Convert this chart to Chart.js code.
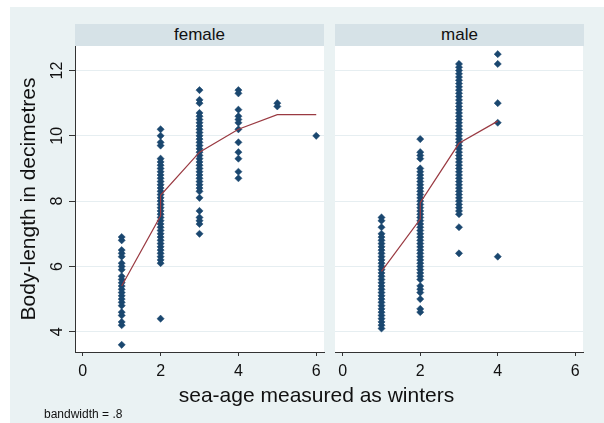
<!DOCTYPE html>
<html>
<head>
<meta charset="utf-8">
<script src="https://cdn.jsdelivr.net/npm/chart.js@4.4.0/dist/chart.umd.min.js"></script>
<style>
  body { margin: 0; width: 604px; height: 423px; overflow: hidden; position: relative; background: #fff;
         font-family: "Liberation Sans", Arial, sans-serif; color: #111; }
  #bg { position: absolute; left: 10px; top: 7px; width: 594px; height: 416px; background: #eaf2f3; }
  .strip { position: absolute; top: 24px; height: 22px; width: 249px; background: #d6e2e7;
           text-align: center; font-size: 17px; line-height: 22px; }
  canvas { position: absolute; top: 0; }
  #xtitle { position: absolute; top: 383px; left: 0; width: 633px; text-align: center; font-size: 21px; }
  #note { position: absolute; left: 44px; top: 407px; font-size: 12px; }
</style>
</head>
<body>
<div id="bg"></div>
<div class="strip" style="left:75px">female</div>
<div class="strip" style="left:335px">male</div>
<canvas id="female" width="330" height="423" style="left:0"></canvas>
<canvas id="male" width="274" height="423" style="left:330px"></canvas>
<div id="xtitle">sea-age measured as winters</div>
<div id="note">bandwidth = .8</div>

<script>
// =====================
// Data (body length in dm, per sea-age)
// =====================
const seaAges = [1, 2, 3, 4, 5, 6];
const xTicks = [0, 2, 4, 6];
const yTicks = [4, 6, 8, 10, 12];

const femaleAge1 = [6.9, 6.8, 6.5, 6.4, 6.3, 6.1, 6.0, 5.9, 5.7, 5.6, 5.5, 5.4, 5.3, 5.2, 5.1, 5.0, 4.9, 4.8, 4.6, 4.5, 4.3, 4.2, 3.6];
const femaleAge2 = [10.2, 10.0, 9.8, 9.7, 9.3, 9.2, 9.1, 9.0, 8.9, 8.8, 8.7, 8.6, 8.5, 8.4, 8.3, 8.2, 8.1, 8.0, 7.9, 7.8,
                    7.7, 7.6, 7.5, 7.4, 7.3, 7.2, 7.1, 7.0, 6.9, 6.8, 6.7, 6.6, 6.5, 6.4, 6.3, 6.2, 6.1, 4.4];
const femaleAge3 = [11.4, 11.1, 11.0, 10.7, 10.6, 10.5, 10.4, 10.3, 10.2, 10.1, 10.0, 9.9, 9.8, 9.7, 9.6, 9.5, 9.4, 9.3,
                    9.2, 9.1, 9.0, 8.9, 8.8, 8.7, 8.6, 8.5, 8.4, 8.3, 8.1, 7.7, 7.5, 7.4, 7.3, 7.0];
const femaleAge4 = [11.4, 11.3, 10.8, 10.6, 10.5, 10.4, 10.2, 9.8, 9.5, 9.3, 8.9, 8.7];
const femaleAge5 = [11.0, 10.9];
const femaleAge6 = [10.0];

const maleAge1 = [7.5, 7.4, 7.2, 7.0, 6.9, 6.8, 6.7, 6.6, 6.5, 6.4, 6.3, 6.2, 6.1, 6.0, 5.9, 5.8, 5.7, 5.6, 5.5, 5.4,
                  5.3, 5.2, 5.1, 5.0, 4.9, 4.8, 4.7, 4.6, 4.5, 4.4, 4.3, 4.2, 4.1];
const maleAge2 = [9.9, 9.5, 9.4, 9.3, 9.0, 8.9, 8.8, 8.7, 8.6, 8.5, 8.4, 8.3, 8.2, 8.1, 8.0, 7.9, 7.8, 7.7, 7.6, 7.5,
                  7.4, 7.3, 7.2, 7.1, 7.0, 6.9, 6.8, 6.7, 6.6, 6.5, 6.4, 6.3, 6.2, 6.1, 6.0, 5.9, 5.8, 5.7, 5.6, 5.4,
                  5.3, 5.2, 5.0, 4.7, 4.6];
const maleAge3 = [12.2, 12.1, 12.0, 11.9, 11.8, 11.7, 11.6, 11.5, 11.4, 11.3, 11.2, 11.1, 11.0, 10.9, 10.8, 10.7, 10.6,
                  10.5, 10.4, 10.3, 10.2, 10.1, 10.0, 9.9, 9.8, 9.7, 9.6, 9.5, 9.4, 9.3, 9.2, 9.1, 9.0, 8.9, 8.8, 8.7,
                  8.6, 8.5, 8.4, 8.3, 8.2, 8.1, 8.0, 7.9, 7.8, 7.7, 7.6, 7.2, 6.4];
const maleAge4 = [12.5, 12.2, 11.0, 10.4, 6.3];

// lowess smooth
const femaleLowessX = [1, 2, 2, 3, 4, 5, 6];
const femaleLowessY = [5.4, 7.55, 8.18, 9.5, 10.2, 10.65, 10.65];
const maleLowessX = [1, 2, 2, 3, 4];
const maleLowessY = [5.85, 7.45, 7.95, 9.77, 10.45];

const femaleGroups = [femaleAge1, femaleAge2, femaleAge3, femaleAge4, femaleAge5, femaleAge6];
const maleGroups = [maleAge1, maleAge2, maleAge3, maleAge4];

// =====================
// Chart helpers
// =====================
Chart.defaults.font.family = '"Liberation Sans", Arial, sans-serif';
Chart.defaults.color = '#111';

const NAVY = '#1a476f';
const MAROON = '#9a3a42';
const GRID = '#e6eef1';
const AXIS = '#333';

const plotBg = {
  id: 'plotBg',
  beforeDraw(chart) {
    const a = chart.chartArea, ctx = chart.ctx;
    ctx.save();
    ctx.fillStyle = '#fff';
    ctx.fillRect(a.left, a.top, a.right - a.left, a.bottom - a.top);
    ctx.restore();
  }
};

function toPoints(groups) {
  const pts = [];
  groups.forEach((vals, i) => vals.forEach(v => pts.push({ x: seaAges[i], y: v })));
  return pts;
}

function makePanel(id, groups, lowX, lowY, withYAxis, padRight) {
  new Chart(document.getElementById(id), {
    type: 'scatter',
    data: {
      datasets: [
        {
          type: 'line',
          data: lowX.map((x, i) => ({ x, y: lowY[i] })),
          borderColor: MAROON,
          borderWidth: 1.2,
          pointRadius: 0,
          fill: false,
          order: 0
        },
        {
          data: toPoints(groups),
          pointStyle: 'rectRot',
          pointRadius: 3.6,
          backgroundColor: NAVY,
          borderColor: NAVY,
          borderWidth: 0.5,
          order: 1
        }
      ]
    },
    options: {
      responsive: false,
      animation: false,
      layout: { padding: { top: 46, right: padRight, bottom: 0, left: 0 } },
      plugins: { legend: { display: false }, tooltip: { enabled: false } },
      scales: {
        x: {
          type: 'linear', min: -0.2, max: 6.2,
          afterBuildTicks: s => { s.ticks = xTicks.map(v => ({ value: v })); },
          afterFit: s => { s.height = 71; },
          grid: { drawOnChartArea: false, drawTicks: true, tickLength: 4, tickColor: AXIS },
          border: { display: true, color: AXIS, width: 1 },
          ticks: { font: { size: 16 }, padding: 6, color: '#111' }
        },
        y: {
          type: 'linear', min: 3.38, max: 12.75,
          afterBuildTicks: s => { s.ticks = yTicks.map(v => ({ value: v })); },
          afterFit: s => { s.width = withYAxis ? 75 : 5; },
          grid: { color: GRID, lineWidth: 1, drawTicks: withYAxis, tickLength: 6, tickColor: AXIS },
          border: { display: withYAxis, color: AXIS, width: 1 },
          ticks: { display: withYAxis, font: { size: 16 }, padding: 3, minRotation: 90, maxRotation: 90,
                   crossAlign: 'center', color: '#111' },
          title: { display: withYAxis, text: 'Body-length in decimetres', font: { size: 21 },
                   padding: { top: 17, bottom: 0 }, color: '#111' }
        }
      }
    },
    plugins: [plotBg]
  });
}

makePanel('female', femaleGroups, femaleLowessX, femaleLowessY, true, 6);
makePanel('male', maleGroups, maleLowessX, maleLowessY, false, 21);
</script>
</body>
</html>
